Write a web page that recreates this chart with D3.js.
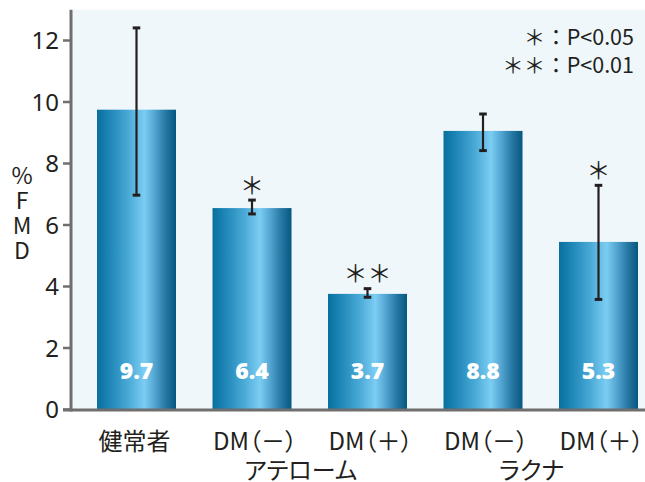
<!DOCTYPE html>
<html><head><meta charset="utf-8">
<script src="https://cdn.jsdelivr.net/npm/d3@7"></script>
<style>
html,body{margin:0;padding:0;background:#fff;}
svg{display:block;}
.jp{font-family:"Noto Sans CJK JP","Noto Sans",sans-serif;}
.palt{font-feature-settings:"palt";}
.vert{writing-mode:vertical-rl;text-orientation:upright;}
</style></head>
<body>
<svg id="c" width="645" height="482"></svg>
<script>
const categories = ["健常者","DM（－）","DM（＋）","DM（－）","DM（＋）"];
const groupLabels = ["アテローム","ラクナ"];
const groupSpans = [[1,2],[3,4]];
const barValues = [9.75, 6.55, 3.76, 9.06, 5.45];
const valueLabels = ["9.7","6.4","3.7","8.8","5.3"];
const errLow  = [6.97, 6.36, 3.65, 8.42, 3.58];
const errHigh = [12.41, 6.81, 3.93, 9.61, 7.29];
const marks = ["", "＊", "＊＊", "", "＊"];
const yTicks = [0,2,4,6,8,10,12];
const legendLines = ["＊：P<0.05","＊＊：P<0.01"];
const yLabel = "%FMD";

const svg = d3.select("#c");
const y = d3.scaleLinear().domain([0,13]).range([409.5, 9.75]);
const x = d3.scaleBand().domain(d3.range(categories.length))
  .range([78.75, 656.25]).paddingInner(0.316).paddingOuter(0.158);

const defs = svg.append("defs");
const g = defs.append("linearGradient").attr("id","bg").attr("x1","0").attr("x2","1").attr("y1","0").attr("y2","0");
[[0,"#07709e"],[0.18,"#2289ba"],[0.4,"#4aaad6"],[0.6,"#7ccdf3"],[0.72,"#56a9d4"],[0.87,"#2677a3"],[1,"#065780"]]
 .forEach(([o,c])=>g.append("stop").attr("offset",o).attr("stop-color",c));

// plot background
svg.append("rect").attr("x",72).attr("y",y(13)).attr("width",645-72).attr("height",y(0)-y(13)).attr("fill","#eff7fb");

// bars
svg.selectAll("rect.bar").data(barValues).join("rect").attr("class","bar")
  .attr("x",(d,i)=>x(i)).attr("width",x.bandwidth())
  .attr("y",d=>y(d)).attr("height",d=>y(0)-y(d)).attr("fill","url(#bg)");

// error bars
const eb = svg.append("g").attr("stroke","#231f20");
barValues.forEach((d,i)=>{
  const cx = x(i)+x.bandwidth()/2;
  eb.append("line").attr("x1",cx).attr("x2",cx).attr("y1",y(errLow[i])).attr("y2",y(errHigh[i])).attr("stroke-width",2.2);
  [errLow[i],errHigh[i]].forEach(v=>eb.append("line").attr("x1",cx-3.8).attr("x2",cx+3.8).attr("y1",y(v)).attr("y2",y(v)).attr("stroke-width",3));
});

// value labels
svg.selectAll("text.val").data(valueLabels).join("text").attr("class","val")
  .attr("x",(d,i)=>x(i)+x.bandwidth()/2).attr("y",y(0)-30.5)
  .attr("text-anchor","middle").attr("fill","#fff")
  .attr("font-family","'Open Sans',sans-serif").attr("font-weight",800).attr("font-size",23)
  .text(d=>d);

// significance marks
svg.selectAll("text.sig").data(marks).join("text").attr("class","sig jp")
  .attr("x",(d,i)=>x(i)+x.bandwidth()/2).attr("y",(d,i)=>y(errHigh[i])-17)
  .attr("dominant-baseline","central")
  .attr("text-anchor","middle").attr("fill","#231f20").attr("font-size",24)
  .text(d=>d);

// axes
const axisColor = "#6f6f6f";
svg.append("line").attr("x1",63).attr("x2",645).attr("y1",y(0)+0.5).attr("y2",y(0)+0.5).attr("stroke",axisColor).attr("stroke-width",3);
svg.append("line").attr("x1",71).attr("x2",71).attr("y1",y(13)).attr("y2",y(0)+2).attr("stroke",axisColor).attr("stroke-width",3);
svg.selectAll("line.tick").data(yTicks).join("line").attr("class","tick")
  .attr("x1",63).attr("x2",71).attr("y1",d=>y(d)).attr("y2",d=>y(d)).attr("stroke",axisColor).attr("stroke-width",2.5);
svg.selectAll("text.tl").data(yTicks).join("text").attr("class","tl")
  .attr("x",59).attr("y",d=>y(d)+8.5).attr("text-anchor","end")
  .attr("font-family","'Noto Sans',sans-serif").attr("font-size",24).attr("fill","#231f20")
  .text(d=>d);

// y label (vertical, upright letters)
svg.append("text").attr("class","jp vert").attr("font-size",23).attr("fill","#231f20")
  .attr("x",22).attr("y",164).attr("letter-spacing",2)
  .text(yLabel);

// category labels
svg.selectAll("text.cat").data(categories).join("text").attr("class","cat jp palt")
  .attr("x",(d,i)=>x(i)+x.bandwidth()/2 + (i===0?-2:3)).attr("y",450)
  .attr("text-anchor","middle").attr("font-size",24).attr("fill","#231f20")
  .text(d=>d);

// group labels
svg.selectAll("text.grp").data(groupLabels).join("text").attr("class","grp jp palt")
  .attr("x",(d,i)=>(x(groupSpans[i][0])+x(groupSpans[i][1])+x.bandwidth())/2 - 9).attr("y",479)
  .attr("text-anchor","middle").attr("font-size",24).attr("fill","#231f20")
  .text(d=>d);

// legend
svg.selectAll("text.leg").data(legendLines).join("text").attr("class","leg jp")
  .attr("x",634).attr("y",(d,i)=>45+i*28).attr("text-anchor","end")
  .attr("font-size",21.5).attr("fill","#231f20").text(d=>d);
</script>
</body></html>
